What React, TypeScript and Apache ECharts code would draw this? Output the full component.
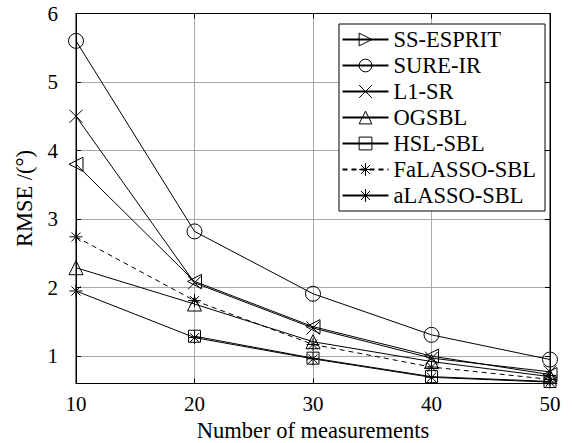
import React, { useEffect, useRef } from "react";
import * as echarts from "echarts";

const measurements = [10, 20, 30, 40, 50];
const seriesNames = ["SS-ESPRIT", "SURE-IR", "L1-SR", "OGSBL", "HSL-SBL", "FaLASSO-SBL", "aLASSO-SBL"];
const ssEsprit = [3.8, 2.09, 1.43, 1.0, 0.73];
const sureIr = [5.6, 2.82, 1.91, 1.31, 0.95];
const l1Sr = [4.5, 2.07, 1.41, 0.97, 0.77];
const ogsbl = [2.29, 1.76, 1.21, 0.92, 0.7];
const hslSbl = [null, 1.29, 0.97, 0.7, 0.63];
const faLassoSbl = [2.74, 1.81, 1.17, 0.84, 0.66];
const aLassoSbl = [1.95, 1.27, 0.96, 0.69, 0.62];
const yTicks = [1, 2, 3, 4, 5, 6];

const FONT = "'Liberation Serif', 'DejaVu Serif', serif";

const SYM_RIGHT_TRI = "path://M0,0L10,5L0,10Z";
const SYM_CIRCLE = "path://M10,5A5,5,0,1,1,0,5A5,5,0,1,1,10,5Z";
const SYM_X = "path://M0,0L10,10M10,0L0,10";
const SYM_UP_TRI = "path://M5,0L10,10L0,10Z";
const SYM_SQUARE = "path://M0,0L10,0L10,10L0,10Z";
const SYM_STAR = "path://M5,0L5,10M0,5L10,5M1.5,1.5L8.5,8.5M8.5,1.5L1.5,8.5";

export default function App() {
  const ref = useRef<HTMLDivElement>(null);
  useEffect(() => {
    document.body.style.margin = "0";
    const chart = echarts.init(ref.current!, null, { renderer: "svg" });
    const values = [ssEsprit, sureIr, l1Sr, ogsbl, hslSbl, faLassoSbl, aLassoSbl];
    const symbols = [SYM_RIGHT_TRI, SYM_CIRCLE, SYM_X, SYM_UP_TRI, SYM_SQUARE, SYM_STAR, SYM_STAR];
    const sizes = [14, 15, 13, 14, 12, 13, 13];
    const series = seriesNames.map((name, i) => ({
      name,
      type: "line",
      xAxisIndex: 0,
      yAxisIndex: 0,
      data: measurements.map((m, j) => [m, values[i][j]]),
      connectNulls: false,
      symbol: symbols[i],
      symbolSize: sizes[i],
      symbolRotate: i === 0 ? 180 : 0,
      showAllSymbol: true,
      itemStyle: { color: "rgba(0,0,0,0)", borderColor: "#000", borderWidth: 1 },
      lineStyle: { color: "#000", width: 1, type: i === 5 ? [5, 4] : "solid" },
      emphasis: { disabled: true },
      z: 3,
    }));
    const tickLabel = { fontFamily: FONT, fontSize: 21, color: "#000" };
    chart.setOption({
      animation: false,
      backgroundColor: "#fff",
      textStyle: { fontFamily: FONT },
      grid: {
        left: 76,
        right: 22,
        top: 13.5,
        bottom: 59.5,
        containLabel: false,
        outerBoundsMode: "none",
        show: true,
        borderColor: "#000",
        borderWidth: 1,
        backgroundColor: "transparent",
      },
      xAxis: [
        {
          type: "value",
          min: 10,
          max: 50,
          interval: 10,
          position: "bottom",
          name: "Number of measurements",
          nameLocation: "middle",
          nameGap: 27,
          nameTextStyle: { fontFamily: FONT, fontSize: 22.5, color: "#000" },
          axisLine: { show: true, lineStyle: { color: "#000" } },
          axisTick: { show: true, inside: true, length: 5, lineStyle: { color: "#000" } },
          axisLabel: { ...tickLabel, margin: 10 },
          splitLine: { show: true, lineStyle: { color: "#a8a8a8", width: 1 } },
        },
        {
          type: "value",
          min: 10,
          max: 50,
          interval: 10,
          position: "top",
          axisLine: { show: true, lineStyle: { color: "#000" } },
          axisTick: { show: true, inside: true, length: 5, lineStyle: { color: "#000" } },
          axisLabel: { show: false },
          splitLine: { show: false },
        },
      ],
      yAxis: [
        {
          type: "value",
          min: 0.6,
          max: 6,
          splitNumber: 5,
          position: "left",
          name: "RMSE /(°)",
          nameLocation: "middle",
          nameGap: 40,
          nameTextStyle: { fontFamily: FONT, fontSize: 22.5, color: "#000" },
          axisLine: { show: true, lineStyle: { color: "#000" } },
          axisTick: { show: true, inside: true, length: 5, lineStyle: { color: "#000" } },
          axisLabel: {
            ...tickLabel,
            margin: 18,
            formatter: (v: number) => (yTicks.includes(Math.round(v * 1000) / 1000) ? String(v) : ""),
          },
          splitLine: { show: true, lineStyle: { color: "#a8a8a8", width: 1 } },
        },
        {
          type: "value",
          min: 0.6,
          max: 6,
          splitNumber: 5,
          position: "right",
          axisLine: { show: true, lineStyle: { color: "#000" } },
          axisTick: { show: true, inside: true, length: 5, lineStyle: { color: "#000" } },
          axisLabel: { show: false },
          splitLine: { show: false },
        },
      ],
      legend: {
        orient: "vertical",
        left: 339,
        top: 24,
        padding: [4, 9, 4, 2.5],
        itemGap: 3,
        itemWidth: 46,
        itemHeight: 16,
        symbolRotate: 0,
        backgroundColor: "#fff",
        borderColor: "#000",
        borderWidth: 1,
        borderRadius: 0,
        itemStyle: { borderWidth: 1, borderColor: "#000", color: "rgba(0,0,0,0)" },
        textStyle: { fontFamily: FONT, fontSize: 22.5, color: "#000", lineHeight: 21 },
        data: seriesNames,
        selectedMode: false,
      },
      series,
    });
    return () => chart.dispose();
  }, []);
  return <div ref={ref} style={{ position: "absolute", left: 0, top: 0, width: 572, height: 443 }} />;
}
